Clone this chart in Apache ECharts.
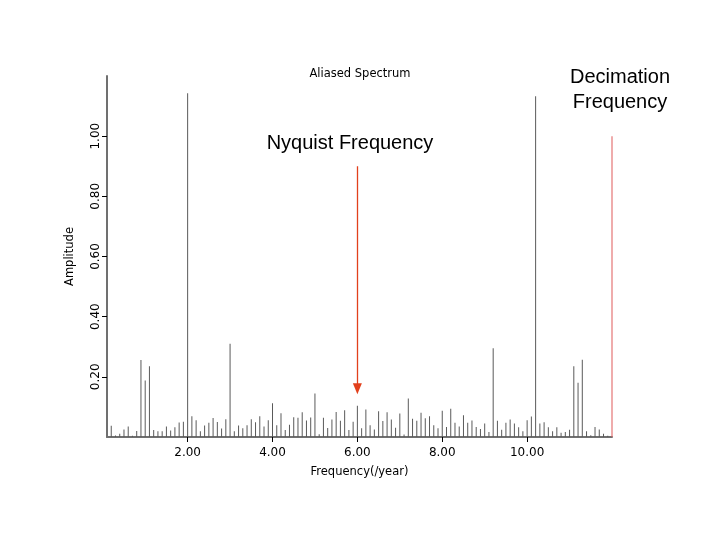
<!DOCTYPE html>
<html>
<head>
<meta charset="utf-8">
<script src="https://cdn.jsdelivr.net/npm/echarts@6/dist/echarts.min.js"></script>
<style>html,body{margin:0;padding:0;background:#fff;}#c{width:720px;height:540px;}</style>
</head>
<body>
<div id="c"></div>
<script>
var freqs = [0.2,0.3,0.4,0.5,0.6,0.7,0.8,0.9,1.0,1.1,1.2,1.3,1.4,1.5,1.6,1.7,1.8,1.9,
  2.0,2.1,2.2,2.3,2.4,2.5,2.6,2.7,2.8,2.9,3.0,3.1,3.2,3.3,3.4,3.5,3.6,3.7,3.8,3.9,
  4.0,4.1,4.2,4.3,4.4,4.5,4.6,4.7,4.8,4.9,5.0,5.1,5.2,5.3,5.4,5.5,5.6,5.7,5.8,5.9,
  6.0,6.1,6.2,6.3,6.4,6.5,6.6,6.7,6.8,6.9,7.0,7.1,7.2,7.3,7.4,7.5,7.6,7.7,7.8,7.9,
  8.0,8.1,8.2,8.3,8.4,8.5,8.6,8.7,8.8,8.9,9.0,9.1,9.2,9.3,9.4,9.5,9.6,9.7,9.8,9.9,
  10.0,10.1,10.2,10.3,10.4,10.5,10.6,10.7,10.8,10.9,11.0,11.1,11.2,11.3,11.4,11.5,11.6,11.7,11.8,11.9];
var amps = [0.037,0.005,0.011,0.025,0.035,0.004,0.020,0.256,0.188,0.235,0.023,0.019,0.019,0.035,0.022,0.032,0.048,0.051,
  1.143,0.069,0.056,0.019,0.038,0.047,0.063,0.050,0.028,0.059,0.310,0.019,0.038,0.029,0.039,0.059,0.049,0.069,0.035,0.056,
  0.112,0.039,0.079,0.023,0.041,0.066,0.064,0.082,0.055,0.065,0.145,0.009,0.064,0.030,0.058,0.083,0.054,0.089,0.023,0.051,
  0.104,0.029,0.091,0.039,0.025,0.086,0.053,0.082,0.058,0.031,0.078,0.008,0.128,0.061,0.054,0.081,0.062,0.069,0.039,0.029,
  0.087,0.033,0.094,0.047,0.035,0.072,0.047,0.055,0.033,0.027,0.045,0.017,0.295,0.054,0.024,0.047,0.058,0.045,0.032,0.019,
  0.056,0.068,1.133,0.045,0.049,0.032,0.019,0.032,0.014,0.017,0.024,0.235,0.180,0.257,0.019,0.006,0.033,0.025,0.011,0.004];
var xTicks = [2, 4, 6, 8, 10];
var yTicks = [0.2, 0.4, 0.6, 0.8, 1.0];
var decimationFreq = 12;
var decimationAmp = 1.0;
var nyquistFreq = 6;
var nyquistArrowFrom = 0.9;
var nyquistArrowTo = 0.16;

var FONT = 'Arial, "Liberation Sans", sans-serif';
var SMALL = '"DejaVu Sans", Verdana, sans-serif';
var chart = echarts.init(document.getElementById('c'), null, {renderer: 'canvas'});
var spikeData = freqs.map(function (f, i) { return [f, amps[i]]; });

chart.setOption({
  animation: false,
  backgroundColor: '#fff',
  title: {
    text: 'Aliased Spectrum',
    left: 'center',
    top: 63,
    textStyle: {fontFamily: SMALL, fontSize: 11.5, fontWeight: 'normal', color: '#000'}
  },
  grid: {left: 107, right: 108, top: 76, bottom: 103, containLabel: false},
  xAxis: {
    type: 'value', min: 0.1, max: 12,
    name: 'Frequency(/year)', nameLocation: 'middle', nameGap: 29,
    nameTextStyle: {fontFamily: SMALL, fontSize: 11.5, color: '#000'},
    axisLine: {show: true, onZero: false, lineStyle: {color: '#707070', width: 2}},
    axisTick: {show: true, length: 5, customValues: xTicks, lineStyle: {color: '#000'}},
    axisLabel: {customValues: xTicks, margin: 10, fontFamily: SMALL, fontSize: 12, color: '#000',
      formatter: function (v) { return v.toFixed(2); }},
    splitLine: {show: false}
  },
  yAxis: {
    type: 'value', min: 0, max: 1.2,
    name: 'Amplitude', nameLocation: 'middle', nameGap: 31,
    nameTextStyle: {fontFamily: SMALL, fontSize: 11.5, color: '#000'},
    axisLine: {show: true, lineStyle: {color: '#707070', width: 2}},
    axisTick: {show: true, length: 5, customValues: yTicks, lineStyle: {color: '#000'}},
    axisLabel: {customValues: yTicks, rotate: 90, margin: 5, fontFamily: SMALL, fontSize: 12, color: '#000',
      formatter: function (v) { return v.toFixed(2); }},
    splitLine: {show: false}
  },
  series: [
    {
      type: 'bar', data: spikeData, barWidth: 1, barGap: '-100%',
      itemStyle: {color: '#5a5a5a'},
      markLine: {
        silent: true,
        symbol: ['none', 'triangle'],
        symbolSize: [9, 11],
        label: {show: false},
        lineStyle: {color: '#e2401c', width: 1.3, type: 'solid'},
        data: [[{coord: [nyquistFreq, nyquistArrowFrom]}, {coord: [nyquistFreq, nyquistArrowTo]}]]
      }
    },
    {
      type: 'bar', data: [[decimationFreq, decimationAmp]], barWidth: 1, barGap: '-100%',
      itemStyle: {color: '#e05a5a'}
    }
  ],
  graphic: [
    {type: 'text', style: {text: 'Nyquist Frequency', x: 350, y: 143,
      align: 'center', verticalAlign: 'middle', fontFamily: FONT, fontSize: 20, fill: '#000'}},
    {type: 'text', style: {text: 'Decimation\nFrequency', x: 620, y: 90, lineHeight: 25,
      align: 'center', verticalAlign: 'middle', fontFamily: FONT, fontSize: 20, fill: '#000'}}
  ]
});
</script>
</body>
</html>
